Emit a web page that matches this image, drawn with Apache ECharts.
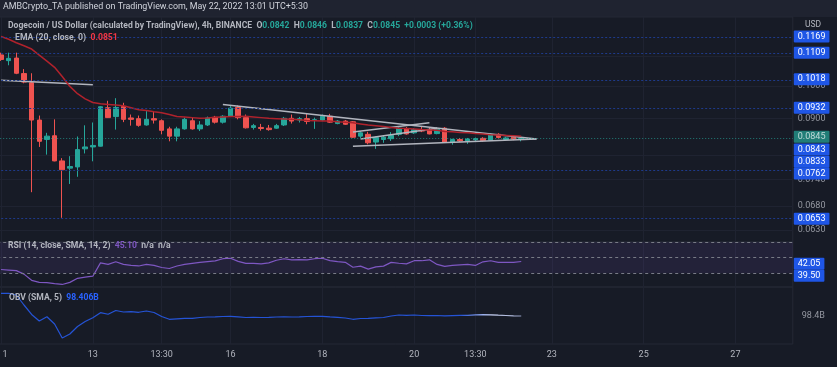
<!DOCTYPE html>
<html><head><meta charset="utf-8">
<script src="https://cdn.jsdelivr.net/npm/echarts@6/dist/echarts.min.js"></script>
<style>html,body{margin:0;padding:0;background:#171b26;}#c{width:837px;height:367px;}</style>
</head><body><div id="c"></div>
<script>
// ---------- DATA ----------
const slotCount = 104;
const slotStartUTC = Date.UTC(2022, 4, 10, 20, 0); // May 11 01:30 IST
const categories = Array.from({length: slotCount}, (_, i) => new Date(slotStartUTC + i * 4 * 3600e3).toISOString().slice(5, 16));
const tickIndex = [0, 12, 21, 30, 42, 54, 62, 72, 84, 96];
const tickText = ['1', '13', '13:30', '16', '18', '20', '13:30', '23', '25', '27'];

const opens  = [0.1104,0.1084,0.1093,0.1040,0.1010,0.0896,0.0842,0.0852,0.0786,0.0768,0.0771,0.0817,0.0822,0.0824,0.0932,0.0906,0.0936,0.0902,0.0900,0.0882,0.0900,0.0894,0.0871,0.0851,0.0871,0.0894,0.0871,0.0882,0.0904,0.0890,0.0907,0.0933,0.0903,0.0875,0.0875,0.0873,0.0873,0.0882,0.0901,0.0896,0.0900,0.0895,0.0896,0.0907,0.0886,0.0893,0.0891,0.0851,0.0856,0.0835,0.0842,0.0844,0.0856,0.0871,0.0860,0.0869,0.0869,0.0858,0.0873,0.0835,0.0842,0.0838,0.0841,0.0845,0.0840,0.0856,0.0842,0.0848,0.0842];
const closes = [0.1088,0.1092,0.1041,0.1012,0.0896,0.0837,0.0851,0.0786,0.0764,0.0772,0.0815,0.0822,0.0826,0.0935,0.0903,0.0933,0.0898,0.0898,0.0881,0.0898,0.0896,0.0867,0.0851,0.0871,0.0898,0.0871,0.0882,0.0902,0.0890,0.0907,0.0931,0.0903,0.0874,0.0880,0.0872,0.0869,0.0880,0.0901,0.0893,0.0900,0.0892,0.0897,0.0907,0.0890,0.0893,0.0884,0.0848,0.0860,0.0833,0.0847,0.0848,0.0853,0.0873,0.0857,0.0869,0.0865,0.0857,0.0871,0.0835,0.0842,0.0838,0.0843,0.0844,0.0839,0.0856,0.0847,0.0846,0.0843,0.0845];
const lows   = [0.1083,0.1068,0.1038,0.1008,0.0711,0.0822,0.0802,0.0785,0.0655,0.0730,0.0747,0.0805,0.0785,0.0823,0.0902,0.0869,0.0890,0.0880,0.0877,0.0880,0.0886,0.0856,0.0837,0.0837,0.0869,0.0869,0.0865,0.0879,0.0886,0.0886,0.0905,0.0898,0.0872,0.0869,0.0866,0.0866,0.0871,0.0879,0.0886,0.0889,0.0884,0.0871,0.0893,0.0888,0.0884,0.0882,0.0846,0.0846,0.0829,0.0817,0.0833,0.0838,0.0851,0.0855,0.0857,0.0862,0.0856,0.0856,0.0833,0.0828,0.0835,0.0830,0.0837,0.0836,0.0838,0.0845,0.0839,0.0840,0.0837];
const highs  = [0.1112,0.1112,0.1112,0.1055,0.1041,0.0909,0.0860,0.0898,0.0793,0.0798,0.0850,0.0881,0.0889,0.0937,0.0953,0.0961,0.0947,0.0912,0.0909,0.0922,0.0922,0.0898,0.0877,0.0877,0.0903,0.0903,0.0893,0.0906,0.0908,0.0910,0.0937,0.0939,0.0912,0.0885,0.0885,0.0882,0.0885,0.0905,0.0912,0.0905,0.0916,0.0903,0.0912,0.0914,0.0896,0.0896,0.0893,0.0864,0.0863,0.0850,0.0853,0.0862,0.0879,0.0876,0.0873,0.0878,0.0875,0.0875,0.0876,0.0844,0.0846,0.0846,0.0847,0.0848,0.0858,0.0859,0.0849,0.0850,0.0846];
const ema20  = [0.1171,0.1161,0.1148,0.1137,0.1125,0.1103,0.1082,0.1061,0.1030,0.0998,0.0975,0.0959,0.0948,0.0944,0.0942,0.0940,0.0938,0.0932,0.0926,0.0924,0.0920,0.0917,0.0912,0.0906,0.0905,0.0903,0.0901,0.0902,0.0904,0.0905,0.0906,0.0906,0.0907,0.0905,0.0903,0.0901,0.0900,0.0899,0.0898,0.0897,0.0895,0.0894,0.0893,0.0893,0.0891,0.0890,0.0888,0.0885,0.0882,0.0880,0.0878,0.0875,0.0873,0.0872,0.0871,0.0869,0.0868,0.0867,0.0864,0.0863,0.0861,0.0860,0.0858,0.0857,0.0855,0.0854,0.0853,0.0852,0.0851];
const rsi14  = [34.7,34.0,33.3,28.7,20.7,18.0,17.6,16.4,15.3,18.0,23.3,24.7,26.0,43.3,41.3,44.7,41.3,40.0,39.3,41.3,40.0,37.3,36.0,39.3,41.3,42.7,44.0,45.0,46.0,48.7,49.3,45.3,42.7,42.7,42.0,43.3,46.7,48.7,47.3,47.6,47.3,48.7,49.3,46.3,45.0,44.0,37.6,39.1,35.2,38.1,39.1,44.0,42.8,42.0,46.1,46.1,47.3,41.3,38.7,40.0,40.7,41.3,40.0,44.7,46.1,44.0,44.0,44.0,45.1];
const obvB   = [104.08,104.08,103.65,101.15,98.78,97.15,98.2,96.4,92.9,93.9,95.78,97.03,97.98,99.23,98.83,99.78,99.4,99.48,99.33,99.65,99.28,98.28,97.58,97.7,97.83,97.83,98.03,98.15,98.2,98.28,98.33,98.2,98.03,98.08,98.03,98.08,98.15,98.2,98.15,98.2,98.28,98.33,98.33,98.2,98.08,97.9,97.58,97.78,97.83,97.95,98.03,98.4,98.65,98.58,98.65,98.53,98.48,98.53,98.45,98.5,98.55,98.58,98.7,98.75,98.7,98.6,98.53,98.45,98.4];

const trendLines = [
  [[0, 0.1018], [12, 0.1003]],
  [[29, 0.0942], [70, 0.0843]],
  [[46, 0.0862], [56, 0.0888]],
  [[47, 0.0843], [57, 0.0873]],
  [[46, 0.0824], [70, 0.0843]]
];
const scalePrices = [0.0630, 0.0680, 0.0740, 0.0900, 0.1000];
const scaleLabels = ['0.0630', '0.0680', '0.0740', '0.0900', '0.1000'];
const gridOnlyPrices = [0.0800, 0.1100];
const levelPrices = [0.1169, 0.1109, 0.1018, 0.0932, 0.0762, 0.0653];
const tagPrices = [0.0843, 0.0833];
const lastPrice = 0.0845;
const rsiLevels = [70, 50, 30];
const rsiTags = [42.05, 39.50];
const obvTag = 98.4;

// ---------- STYLE ----------
const UP = '#26a69a', DOWN = '#ef5350', BLUE_TAG = '#1f56e6';
const FONT = 'Roboto';
const levelShift = [-0.5, -0.8, -1, 0, 3, 0];
const tagShift = [10.5, 19];
const rsiTagShift = [0, 10];

const candleData = opens.map((o, i) => [o, closes[i], lows[i], highs[i]]);
const tagLabel = (txt, bg, dy) => ({show: true, position: 'end', distance: 1, formatter: txt, color: '#ffffff', backgroundColor: bg, padding: [2, 4, 1, 4], fontSize: 9, fontFamily: FONT, offset: [0, dy || 0], borderRadius: 1});
const noLine = {color: 'rgba(0,0,0,0)', width: 0};

const xBase = (gi, showLabels) => ({
  type: 'category', gridIndex: gi, data: categories, boundaryGap: true,
  axisLine: {show: false}, axisTick: {show: false},
  axisLabel: showLabels ? {
    show: true, interval: (i) => tickIndex.includes(i), color: '#b2b5be', fontSize: 9, fontFamily: FONT, margin: 6,
    formatter: (v, i) => { const k = tickIndex.indexOf(i); return k === 0 ? '{a|' + tickText[k] + '}' : (k >= 0 ? tickText[k] : ''); },
    rich: {a: {padding: [0, 0, 0, 8], color: '#b2b5be', fontSize: 9, fontFamily: FONT}}
  } : {show: false},
  splitLine: {show: true, alignWithLabel: true, interval: (i) => tickIndex.includes(i), lineStyle: {color: '#1f2331', width: 1}}
});
const gridBase = (top, height) => ({left: -2.8, right: 44.2, top: top, height: height, containLabel: false, outerBoundsMode: 'none', show: true, borderColor: '#252935', borderWidth: 1, backgroundColor: 'transparent'});

const chart = echarts.init(document.getElementById('c'), null, {renderer: 'canvas'});
chart.setOption({
  backgroundColor: '#171b26',
  animation: false,
  graphic: [{type: 'rect', shape: {x: 0, y: 0, width: 837, height: 17}, style: {fill: '#1f2330'}, z: -10, silent: true}],
  title: [
    {text: 'AMBCrypto_TA published on TradingView.com, May 22, 2022 13:01 UTC+5:30', left: 3, top: 2, padding: 0, textStyle: {color: '#d1d4dc', fontSize: 8.9, fontWeight: 'normal', fontFamily: FONT}},
    {text: '{g|Dogecoin / US Dollar (calculated by TradingView), 4h, BINANCE}  {g|O}{v|0.0842}  {g|H}{v|0.0846}  {g|L}{v|0.0837}  {g|C}{v|0.0845}  {v|+0.0003 (+0.36%)}', left: 8, top: 21, padding: 0,
      textStyle: {fontSize: 8.6, fontFamily: FONT, rich: {g: {color: '#b2b5be', fontSize: 8.6, fontFamily: FONT}, v: {color: UP, fontSize: 8.6, fontFamily: FONT}}}},
    {text: '{g|EMA (20, close, 0)}  {r|0.0851}', left: 15, top: 33.5, padding: 0,
      textStyle: {fontSize: 8.7, fontFamily: FONT, rich: {g: {color: '#b2b5be', fontSize: 8.7, fontFamily: FONT}, r: {color: '#f23645', fontSize: 8.7, fontFamily: FONT}}}},
    {text: 'USD', left: 805, top: 20, padding: 0, textStyle: {color: '#b2b5be', fontSize: 8.5, fontWeight: 'normal', fontFamily: FONT}},
    {text: '{g|RSI (14, close, SMA, 14, 2)}  {p|45.10}  {g|n/a}  {g|n/a}', left: 8, top: 241.5, padding: 0,
      textStyle: {fontSize: 8.6, fontFamily: FONT, rich: {g: {color: '#b2b5be', fontSize: 8.6, fontFamily: FONT}, p: {color: '#7e57c2', fontSize: 8.6, fontFamily: FONT}}}},
    {text: '{g|OBV (SMA, 5)}  {b|98.406B}', left: 9, top: 293.5, padding: 0,
      textStyle: {fontSize: 8.6, fontFamily: FONT, rich: {g: {color: '#b2b5be', fontSize: 8.6, fontFamily: FONT}, b: {color: '#2962ff', fontSize: 8.6, fontFamily: FONT}}}}
  ],
  grid: [gridBase(17, 225), gridBase(242, 45), gridBase(287, 57)],
  xAxis: [xBase(0, false), xBase(1, false), xBase(2, true)],
  yAxis: [
    {type: 'log', logBase: 10, gridIndex: 0, min: 0.06061, max: 0.12467, position: 'right', axisLine: {show: false}, axisTick: {show: false}, axisLabel: {show: false}, splitLine: {show: false}},
    {type: 'value', gridIndex: 1, min: 12, max: 70.4, position: 'right', axisLine: {show: false}, axisTick: {show: false}, axisLabel: {show: false}, splitLine: {show: false}},
    {type: 'value', gridIndex: 2, min: 91.4, max: 105.65, position: 'right', axisLine: {show: false}, axisTick: {show: false}, axisLabel: {show: false}, splitLine: {show: false}}
  ],
  series: [
    {
      name: 'scale', type: 'line', xAxisIndex: 0, yAxisIndex: 0, data: [], z: 1, silent: true,
      markLine: {
        silent: true, symbol: 'none', z: 1, animation: false, precision: 6,
        data: scalePrices.map((p, i) => ({yAxis: p, lineStyle: {color: '#1f2331', width: 1, type: 'solid'},
          label: {show: true, position: 'end', distance: 1, formatter: scaleLabels[i], color: '#9598a1', fontSize: 9, fontFamily: FONT, padding: [2, 4, 1, 4]}}))
          .concat(gridOnlyPrices.map(p => ({yAxis: p, lineStyle: {color: '#1f2331', width: 1, type: 'solid'}, label: {show: false}})))
      }
    },
    {
      name: 'DOGEUSD', type: 'candlestick', xAxisIndex: 0, yAxisIndex: 0, data: candleData, barWidth: 5, z: 3,
      itemStyle: {color: UP, color0: DOWN, borderColor: UP, borderColor0: DOWN, borderWidth: 1},
      markLine: {
        silent: true, symbol: 'none', z: 4, animation: false, precision: 6,
        lineStyle: {color: '#b2b5be', width: 1.5, type: 'solid'}, label: {show: false},
        data: trendLines.map(t => [{coord: t[0]}, {coord: t[1]}])
      }
    },
    {
      name: 'EMA', type: 'line', xAxisIndex: 0, yAxisIndex: 0, data: ema20, symbol: 'none', z: 4,
      lineStyle: {color: '#b0222c', width: 1.5}
    },
    {
      name: 'levels', type: 'line', xAxisIndex: 0, yAxisIndex: 0, data: [], z: 6, silent: true,
      markLine: {
        silent: true, symbol: 'none', z: 6, animation: false, precision: 6,
        data: levelPrices.map((p, i) => ({yAxis: p, lineStyle: {color: '#1e3a8a', width: 1, type: [2, 2]}, label: tagLabel(p.toFixed(4), BLUE_TAG, levelShift[i])}))
          .concat(tagPrices.map((p, i) => ({yAxis: p, lineStyle: noLine, label: tagLabel(p.toFixed(4), BLUE_TAG, tagShift[i])})))
          .concat([{yAxis: lastPrice, lineStyle: {color: UP, width: 1, type: [1, 2], opacity: 0.7}, label: tagLabel(lastPrice.toFixed(4), UP, -1.5)}])
      }
    },
    {
      name: 'RSI', type: 'line', xAxisIndex: 1, yAxisIndex: 1, data: rsi14, symbol: 'none', z: 4,
      lineStyle: {color: '#7e57c2', width: 1.2},
      markArea: {silent: true, itemStyle: {color: 'rgba(126,87,194,0.12)'}, data: [[{yAxis: rsiLevels[2]}, {yAxis: rsiLevels[0]}]]},
      markLine: {
        silent: true, symbol: 'none', animation: false, precision: 6,
        data: rsiLevels.map(v => ({yAxis: v, lineStyle: {color: '#787b86', width: 1, type: [3, 3]}, label: {show: false}}))
          .concat(rsiTags.map((v, i) => ({yAxis: v, lineStyle: noLine, label: tagLabel(v.toFixed(2), BLUE_TAG, rsiTagShift[i])})))
      }
    },
    {
      name: 'OBV', type: 'line', xAxisIndex: 2, yAxisIndex: 2, data: obvB, symbol: 'none', z: 4,
      lineStyle: {width: 1.2, color: new echarts.graphic.LinearGradient(0, 0, 1, 0, [
        {offset: 0, color: '#2453d6'}, {offset: 0.88, color: '#2453d6'}, {offset: 0.94, color: '#c9d3f5'},
        {offset: 0.98, color: '#aab4d6'}, {offset: 1, color: '#8d97bd'}])},
      markLine: {
        silent: true, symbol: 'none', animation: false, precision: 6,
        data: [{yAxis: obvTag, lineStyle: noLine, label: {show: true, position: 'end', distance: 1, formatter: obvTag.toFixed(1) + 'B', color: '#9598a1', fontSize: 9, fontFamily: FONT, padding: [0, 4, 0, 8]}}]
      }
    }
  ]
});
</script>
</body></html>
